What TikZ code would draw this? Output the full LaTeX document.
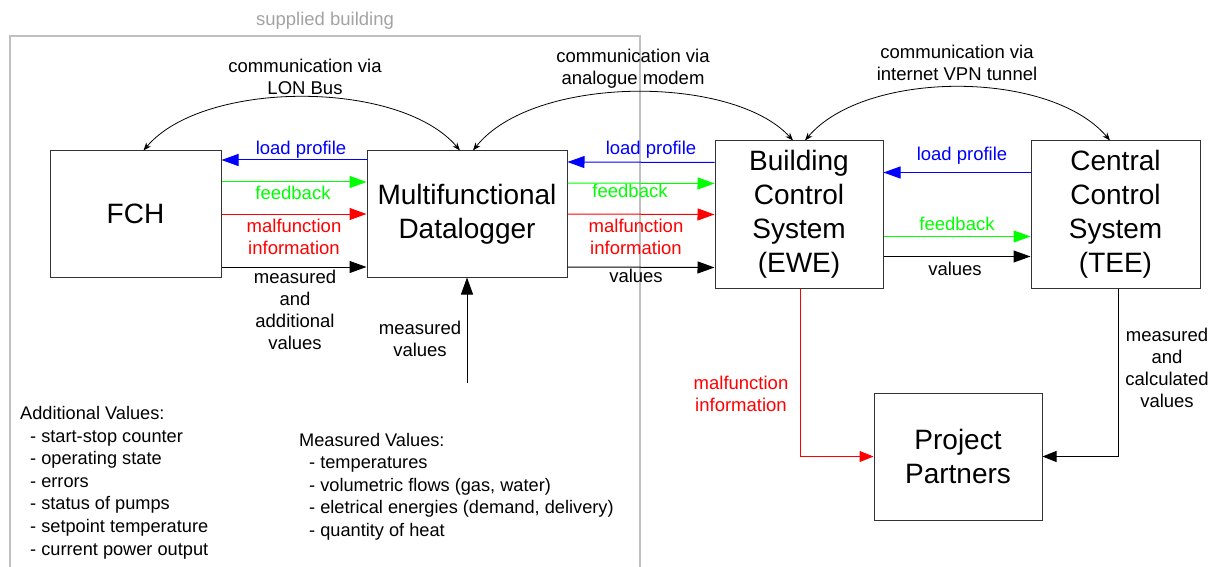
\documentclass[tikz,border=0pt]{standalone}
\usepackage{fontspec}
\setmainfont{Liberation Sans}
\usetikzlibrary{arrows.meta}
\definecolor{lpblue}{RGB}{0,0,255}
\definecolor{fbgreen}{RGB}{0,255,0}
\definecolor{mfred}{RGB}{255,0,0}
\definecolor{bldgray}{RGB}{192,192,192}

\begin{document}
\begin{tikzpicture}[x=1pt, y=-1pt,
  box/.style={draw=black!80, line width=1pt, align=center, inner sep=0pt,
              font=\fontsize{28}{34}\selectfont},
  lbl/.style={align=center, inner sep=0pt, font=\fontsize{18.5}{22}\selectfont},
  lst/.style={align=left, inner sep=0pt, anchor=west,
              font=\fontsize{18.2}{22.6}\selectfont},
  flow/.style={-{Triangle[length=17pt, width=12pt]}, line width=1pt},
  comm/.style={{Stealth[length=8pt, width=6pt]}-{Stealth[length=8pt, width=6pt]},
               line width=0.8pt}
]
\useasboundingbox (0,0) rectangle (1216,567);

% supplied building
\draw[bldgray, line width=1.5pt] (10,567) -- (10,36) -- (640,36) -- (640,567);
\node[lbl, text=bldgray!85!black] (bldg) at (325,21) {supplied building};

% boxes
\node[box, minimum width=171pt, minimum height=126pt] (fch) at (135.5,214)   {FCH};
\node[box, minimum width=200pt, minimum height=126pt] (dl)  at (467,214)     {Multifunctional\\Datalogger};
\node[box, minimum width=168pt, minimum height=147pt] (bcs) at (799,214.5)   {Building\\Control\\System\\(EWE)};
\node[box, minimum width=169pt, minimum height=147pt] (ccs) at (1115.5,214.5) {Central\\Control\\System\\(TEE)};
\node[box, minimum width=168pt, minimum height=127pt] (pp)  at (958,456.5)   {Project\\Partners};

% communication links
\draw[comm] ([xshift=8pt]fch.north) .. controls +(60,-71) and +(-60,-71) .. ([xshift=-7pt]dl.north);
\draw[comm] ([xshift=6pt]dl.north) .. controls +(60,-76) and +(-60,-66) .. ([xshift=-6pt]bcs.north);
\draw[comm] ([xshift=6pt]bcs.north) .. controls +(60,-71) and +(-60,-71) .. ([xshift=-5.5pt]ccs.north);
\node[lbl] (lon)   at (305,77) {communication via\\LON Bus};
\node[lbl] (modem) at (633,69) {communication via\\analogue modem};
\node[lbl] (vpn)   at (957,63) {communication via\\internet VPN tunnel};

% FCH <-> datalogger
\draw[flow, lpblue]  ([yshift=54pt]dl.west)  -- ([yshift=54pt]fch.east);
\draw[flow, fbgreen] ([yshift=32pt]fch.east) -- ([yshift=32pt]dl.west);
\draw[flow, mfred]   (fch.east) -- (dl.west);
\draw[flow]          ([yshift=-53pt]fch.east) -- ([yshift=-53pt]dl.west);
\node[lbl, text=lpblue]  (lp1) at (301,150) {load profile};
\node[lbl, text=fbgreen] (fb1) at (293,193) {feedback};
\node[lbl, text=mfred]   (mf1) at (294,237) {malfunction\\information};
\node[lbl]               (mv1) at (295,310) {measured\\and\\additional\\values};

% datalogger <-> building control
\draw[flow, lpblue]  ([yshift=52pt]bcs.west) -- ([yshift=52pt]dl.east);
\draw[flow, fbgreen] ([yshift=31pt]dl.east)  -- ([yshift=31pt]bcs.west);
\draw[flow, mfred]   (dl.east) -- (bcs.west);
\draw[flow]          ([yshift=-53pt]dl.east) -- ([yshift=-53pt]bcs.west);
\node[lbl, text=lpblue]  (lp2) at (651,150) {load profile};
\node[lbl, text=fbgreen] (fb2) at (630,191) {feedback};
\node[lbl, text=mfred]   (mf2) at (636,237) {malfunction\\information};
\node[lbl]               (vl2) at (636,276) {values};

% measured values into datalogger
\coordinate (meas) at (467,383);
\draw[flow] (meas) -- (dl.south);
\node[lbl] (mv2) at (420,339) {measured\\values};

% building control <-> central control
\draw[flow, lpblue]  ([yshift=42pt]ccs.west)  -- ([yshift=42pt]bcs.east);
\draw[flow, fbgreen] ([yshift=-22pt]bcs.east) -- ([yshift=-22pt]ccs.west);
\draw[flow]          ([yshift=-42pt]bcs.east) -- ([yshift=-42pt]ccs.west);
\node[lbl, text=lpblue]  (lp3) at (962,156) {load profile};
\node[lbl, text=fbgreen] (fb3) at (957,224) {feedback};
\node[lbl]               (vl3) at (955,269) {values};

% to project partners
\draw[flow, mfred, -{Triangle[length=14pt, width=11pt]}] ([xshift=1pt]bcs.south) |- (pp.west);
\draw[flow, -{Triangle[length=14pt, width=11pt]}] ([xshift=2.5pt]ccs.south) |- (pp.east);
\node[lbl, text=mfred] (mf3) at (741,394)  {malfunction\\information};
\node[lbl]             (mc3) at (1167,368) {measured\\and\\calculated\\values};

% value lists
\node[lst] (addv) at (20,482.5) {Additional Values:\\
  \hspace*{10pt}- start-stop counter\\
  \hspace*{10pt}- operating state\\
  \hspace*{10pt}- errors\\
  \hspace*{10pt}- status of pumps\\
  \hspace*{10pt}- setpoint temperature\\
  \hspace*{10pt}- current power output};
\node[lst] (measv) at (299,486.5) {Measured Values:\\
  \hspace*{10pt}- temperatures\\
  \hspace*{10pt}- volumetric flows (gas, water)\\
  \hspace*{10pt}- eletrical energies (demand, delivery)\\
  \hspace*{10pt}- quantity of heat};
\end{tikzpicture}
\end{document}
